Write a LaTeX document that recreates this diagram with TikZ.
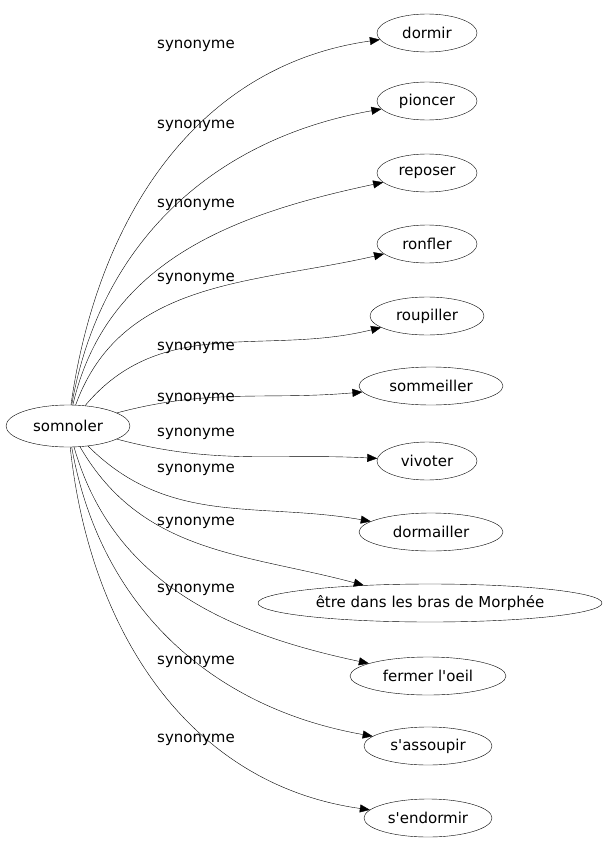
\documentclass[tikz,border=0pt]{standalone}
\usepackage{fontspec}
\setmainfont{DejaVu Sans}[Ligatures=TeXOff]
\usetikzlibrary{arrows.meta,shapes.geometric}
\begin{document}
\begin{tikzpicture}[x=1pt,y=-1pt,
  wnode/.style={draw,ellipse,inner sep=1pt,minimum height=38pt,font=\fontsize{15}{18}\selectfont},
  lbl/.style={font=\fontsize{15}{18}\selectfont},
  edge/.style={-{Triangle[length=10pt,width=8pt]}}]
\useasboundingbox (0,0) rectangle (607,851);
\node[wnode,minimum width=124pt,minimum height=42pt] (s) at (68,426) {somnoler};
\node[wnode,minimum width=100pt] (a) at (427,33) {dormir};
\node[wnode,minimum width=100pt] (b) at (427,101) {pioncer};
\node[wnode,minimum width=100pt] (c) at (427,173) {reposer};
\node[wnode,minimum width=100pt] (d) at (427,244) {ronfler};
\node[wnode,minimum width=114pt] (e) at (427,316) {roupiller};
\node[wnode,minimum width=144pt] (f) at (431,386) {sommeiller};
\node[wnode,minimum width=100pt] (g) at (427,461) {vivoter};
\node[wnode,minimum width=144pt] (h) at (431,532) {dormailler};
\node[wnode,minimum width=344pt] (i) at (430,603) {être dans les bras de Morphée};
\node[wnode,minimum width=156pt] (j) at (428,676) {fermer l'oeil};
\node[wnode,minimum width=128pt] (k) at (428,746) {s'assoupir};
\node[wnode,minimum width=128pt] (l) at (428,818) {s'endormir};
\foreach \t/\o/\i/\y/\n in {a/82/188/46/la,b/80/190/126/lb,c/77/192/205/lc,d/70/193/279/ld,e/50/194/348/le,f/15/185/399/lf,g/-15/177/434/lg,h/-45/170/470/lh,i/-60/165/523/li,j/-74/168/590/lj,k/-80/170/662/lk,l/-84/172/740/ll}{
  \draw[edge] (s) to[out=\o,in=\i] (\t);
  \node[lbl] (\n) at (196,\y) {synonyme};
}
\end{tikzpicture}
\end{document}
